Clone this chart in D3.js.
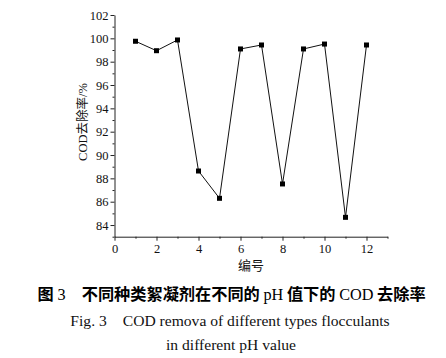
<!DOCTYPE html>
<html><head><meta charset="utf-8">
<script src="https://cdn.jsdelivr.net/npm/d3@7"></script>
<style>body{margin:0;background:#fff}svg{display:block}</style>
</head><body>
<script>
const ids = [1,2,3,4,5,6,7,8,9,10,11,12];
const removal = [99.75,98.94,99.86,88.63,86.29,99.09,99.43,87.52,99.09,99.51,84.66,99.43];
const xTicks = [0,2,4,6,8,10,12];
const yTicks = [84,86,88,90,92,94,96,98,100,102];
const yLabel = "COD去除率/%";
const xLabel = "编号";

const W=446,H=358;
const svg=d3.select("body").append("svg").attr("width",W).attr("height",H);
const x=d3.scaleLinear().domain([0,13]).range([114.5,387.5]);
const y=d3.scaleLinear().domain([83,102]).range([236.7,15]);
const serif="'Liberation Serif','Times New Roman',serif";
const cjk="'Noto Sans CJK SC',sans-serif";

const xa=svg.append("g").attr("transform",`translate(0,${y(83)})`)
  .call(d3.axisBottom(x).tickValues(xTicks).tickSize(4).tickSizeOuter(0).tickPadding(3));
const xm=svg.append("g").attr("transform",`translate(0,${y(83)})`)
  .call(d3.axisBottom(x).tickValues([1,3,5,7,9,11,13]).tickSize(2).tickFormat("").tickSizeOuter(0));
xm.select(".domain").remove();
const ya=svg.append("g").attr("transform",`translate(${x(0)},0)`)
  .call(d3.axisLeft(y).tickValues(yTicks).tickSize(4).tickSizeOuter(0).tickPadding(2));
const ym=svg.append("g").attr("transform",`translate(${x(0)},0)`)
  .call(d3.axisLeft(y).tickValues([83,85,87,89,91,93,95,97,99,101]).tickSize(2).tickFormat("").tickSizeOuter(0));
ym.select(".domain").remove();
svg.selectAll(".tick text").attr("font-family",serif).attr("font-size",12.5).attr("fill","#111");
svg.selectAll(".domain,.tick line").attr("stroke","#222").attr("stroke-width",1);

const line=d3.line().x((d,i)=>x(ids[i])).y(d=>y(d));
svg.append("path").datum(removal).attr("d",line).attr("fill","none").attr("stroke","#111").attr("stroke-width",1);
svg.selectAll("rect.pt").data(removal).enter().append("rect").attr("class","pt")
  .attr("x",(d,i)=>x(ids[i])-2.5).attr("y",d=>y(d)-2.5).attr("width",5).attr("height",5).attr("fill","#000");

svg.append("text").attr("transform",`translate(87,122) rotate(-90)`)
  .attr("text-anchor","middle").attr("font-size",12.5).attr("fill","#111")
  .selectAll("tspan").data([["COD",serif],["去除率",cjk],["/%",serif]]).enter().append("tspan")
  .attr("font-family",d=>d[1]).text(d=>d[0]);
svg.append("text").attr("x",(x(0)+x(13))/2).attr("y",270).attr("text-anchor","middle")
  .attr("font-family",cjk).attr("font-size",13).attr("fill","#111").text(xLabel);

const t1=[["图",cjk],[" 3　",serif],["不同种类絮凝剂在不同的 ",cjk],["pH",serif],[" 值下的 ",cjk],["COD",serif],[" 去除率",cjk]];
svg.append("text").attr("x",231.5).attr("y",300).attr("text-anchor","middle").attr("font-size",16.2).attr("font-weight","bold").attr("fill","#000")
  .selectAll("tspan").data(t1).enter().append("tspan").attr("font-family",d=>d[1])
  .attr("font-weight",d=>d[1]===serif?"normal":"bold").text(d=>d[0]);
svg.append("text").attr("x",230).attr("y",326).attr("text-anchor","middle").attr("font-family",serif).attr("font-size",15.6).attr("fill","#111")
  .text("Fig. 3　COD remova of different types flocculants");
svg.append("text").attr("x",231).attr("y",350).attr("text-anchor","middle").attr("font-family",serif).attr("font-size",15.6).attr("fill","#111")
  .text("in different pH value");
</script>
</body></html>
